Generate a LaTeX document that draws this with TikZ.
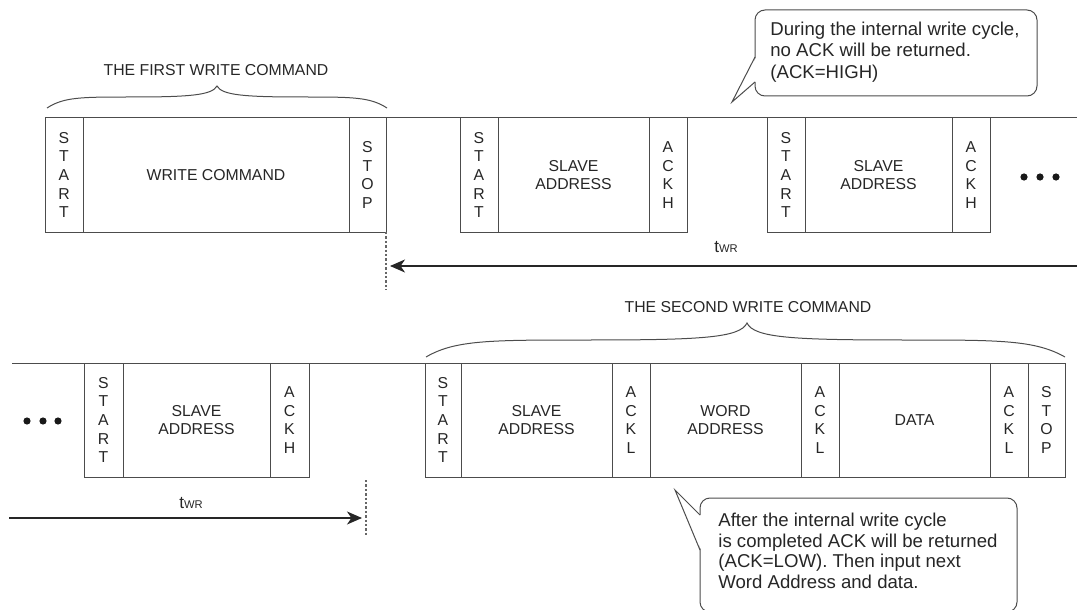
\documentclass[tikz,border=0pt]{standalone}
\usepackage{fontspec}
\setmainfont{Liberation Sans}
\usetikzlibrary{positioning,arrows.meta}

\begin{document}
\begin{tikzpicture}[x=0.5pt, y=-0.5pt,
    field/.style={draw=black!70, line width=0.5pt, inner sep=0pt, outer sep=0pt,
        minimum height=57pt, text=black!85, align=center,
        font=\fontsize{7.9}{9}\selectfont},
    bitfield/.style={field, minimum width=19pt, font=\fontsize{7.9}{9.35}\selectfont},
    wire/.style={draw=black!70, line width=0.5pt},
    endmark/.style={draw=black!60, line width=0.6pt, dash pattern=on 1.2pt off 1pt},
    twrarrow/.style={draw=black!85, line width=0.6pt, -{Stealth[length=7.5pt,width=6.5pt,inset=2.2pt]}},
    cmdtitle/.style={text=black!85, font=\fontsize{7.9}{9}\selectfont},
    note/.style={text=black!85, align=left, anchor=west, inner sep=0pt},
    bubble/.style={draw=black!70, line width=0.5pt, rounded corners=5pt},
    bulletdot/.style={fill=black!90}]

    \useasboundingbox (0,0) rectangle (1077,610);

    % first write command
    \node[bitfield, anchor=north west] (start1) at (45,118) {S\\T\\A\\R\\T};
    \node[field, minimum width=133pt, right=0pt of start1] (wcmd1) {WRITE COMMAND};
    \node[bitfield, minimum width=18.5pt, right=0pt of wcmd1] (stop1) {S\\T\\O\\P};
    \coordinate (wire1 end) at (1077,118);
    \draw[wire] (start1.north west) -- (wire1 end);

    \draw[wire] (47,108) .. controls (64,97) and (81,97) .. (132,97)
        .. controls (191,97) and (212,95) .. (217,86)
        .. controls (222,95) and (243,97) .. (302,97)
        .. controls (353,97) and (370,97) .. (387,108);
    \node[cmdtitle] (title1) at (216,70) {THE FIRST WRITE COMMAND};

    % polling during the write cycle
    \node[bitfield, anchor=north west] (start2) at (460,118) {S\\T\\A\\R\\T};
    \node[field, minimum width=75.5pt, right=0pt of start2] (sla2) {SLAVE\\ADDRESS};
    \node[bitfield, right=0pt of sla2] (ackh2) {A\\C\\K\\H};

    \node[bitfield, anchor=north west] (start3) at (767,118) {S\\T\\A\\R\\T};
    \node[field, minimum width=73.5pt, right=0pt of start3] (sla3) {SLAVE\\ADDRESS};
    \node[bitfield, right=0pt of sla3] (ackh3) {A\\C\\K\\H};

    \foreach \x in {1024,1040,1056}
        \fill[bulletdot] (\x,177) circle (1.8pt);

    \coordinate (mark1) at (386,290);
    \draw[endmark] (stop1.south east) -- (mark1);
    \coordinate (twr1 from) at (1077,266);
    \coordinate (twr1 to) at (390,266);
    \draw[twrarrow] (twr1 from) -- (twr1 to);
    \node[cmdtitle, font=\fontsize{8.6}{9}\selectfont] (twr1) at (726,247) {t{\fontsize{5.6}{6}\selectfont WR}};

    % callout: no ACK
    \draw[bubble] (755,10) rectangle (1037,96);
    \fill[white] (756,57.5) -- (732,102) -- (756,81.5) -- cycle;
    \draw[wire] (755,57) -- (732,102) -- (755,82);
    \node[note, font=\fontsize{9.3}{10.75}\selectfont] (note1) at (770,52)
        {During the internal write cycle,\\no ACK will be returned.\\(ACK=HIGH)};

    % second row
    \foreach \x in {27,43,58}
        \fill[bulletdot] (\x,421) circle (1.8pt);

    \node[bitfield, minimum width=19.5pt, anchor=north west] (start4) at (84,363) {S\\T\\A\\R\\T};
    \node[field, minimum width=73.5pt, right=0pt of start4] (sla4) {SLAVE\\ADDRESS};
    \node[bitfield, minimum width=19.5pt, right=0pt of sla4] (ackh4) {A\\C\\K\\H};

    % second write command
    \node[bitfield, minimum width=18pt, anchor=north west] (start5) at (425,363) {S\\T\\A\\R\\T};
    \node[field, minimum width=75.5pt, right=0pt of start5] (sla5) {SLAVE\\ADDRESS};
    \node[bitfield, right=0pt of sla5] (ackl5) {A\\C\\K\\L};
    \node[field, minimum width=75.5pt, right=0pt of ackl5] (word5) {WORD\\ADDRESS};
    \node[bitfield, right=0pt of word5] (ackl6) {A\\C\\K\\L};
    \node[field, minimum width=75.5pt, right=0pt of ackl6] (data5) {DATA};
    \node[bitfield, right=0pt of data5] (ackl7) {A\\C\\K\\L};
    \node[bitfield, minimum width=18.5pt, right=0pt of ackl7] (stop5) {S\\T\\O\\P};
    \coordinate (wire2 start) at (12,363);
    \draw[wire] (wire2 start) -- (stop5.north east);

    \draw[wire] (426,357) .. controls (455,340) and (490,340) .. (587,340)
        .. controls (700,340) and (740,338) .. (747,323)
        .. controls (754,338) and (794,340) .. (906,340)
        .. controls (1000,340) and (1035,340) .. (1065,357);
    \node[cmdtitle] (title2) at (748,307) {THE SECOND WRITE COMMAND};

    \coordinate (mark2 top) at (366,480);
    \coordinate (mark2) at (366,536);
    \draw[endmark] (mark2 top) -- (mark2);
    \coordinate (twr2 from) at (9,518);
    \coordinate (twr2 to) at (362,518);
    \draw[twrarrow] (twr2 from) -- (twr2 to);
    \node[cmdtitle, font=\fontsize{8.6}{9}\selectfont] (twr2) at (191,503) {t{\fontsize{5.6}{6}\selectfont WR}};

    % callout: ACK returned
    \draw[bubble] (700,498) rectangle (1017,612);
    \fill[white] (701,515.5) -- (675,490) -- (701,549.5) -- cycle;
    \draw[wire] (700,515) -- (675,490) -- (700,550);
    \node[note, font=\fontsize{9.3}{10.25}\selectfont] (note2) at (718,551)
        {After the internal write cycle\\is completed ACK will be returned\\(ACK=LOW). Then input next\\Word Address and data.};

\end{tikzpicture}
\end{document}
